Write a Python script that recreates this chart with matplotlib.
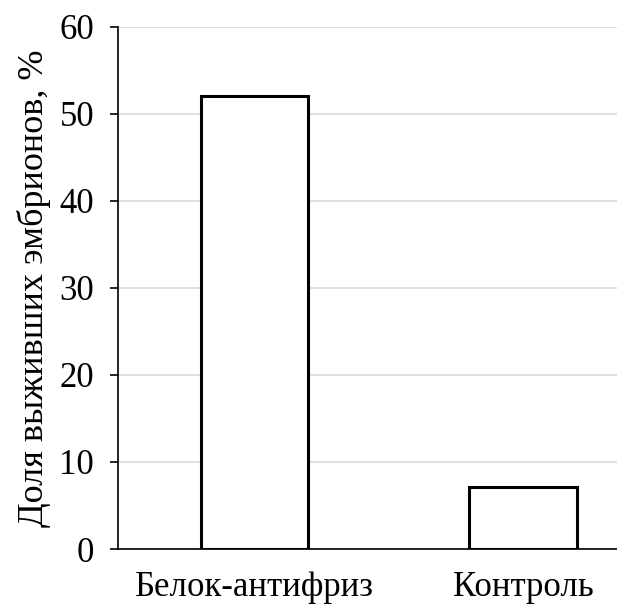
import matplotlib.pyplot as plt

categories = ['Белок-антифриз', 'Контроль']
values = [52.1, 7.1]
yticks = [0, 10, 20, 30, 40, 50, 60]

plt.rcParams['font.family'] = ['Liberation Serif', 'DejaVu Serif']

fig = plt.figure(figsize=(6.17, 6.08), dpi=100)
ax = fig.add_axes([0.191, 0.097, 0.809, 0.859])

x = range(len(categories))
ax.bar(x, values, width=0.40, color='white', edgecolor='black', linewidth=2.2, zorder=3)

ax.set_xlim(-0.51, 1.35)
ax.set_ylim(0, 60)
ax.set_yticks(yticks)
ax.set_xticks(list(x))
ax.set_xticklabels(categories)

ax.yaxis.grid(True, color='#d9d9d9', linewidth=1.2, zorder=0)
ax.set_axisbelow(True)

for s in ['top', 'right']:
    ax.spines[s].set_visible(False)
ax.spines['left'].set_linewidth(1.2)
ax.spines['bottom'].set_linewidth(1.2)

ax.tick_params(axis='y', direction='out', length=6, width=1.2, pad=11, labelsize=25)
ax.tick_params(axis='x', length=0, pad=16, labelsize=25)

ax.set_ylabel('Доля выживших эмбрионов, %', fontsize=26, labelpad=6)

fig.savefig('out.png', dpi=100)
